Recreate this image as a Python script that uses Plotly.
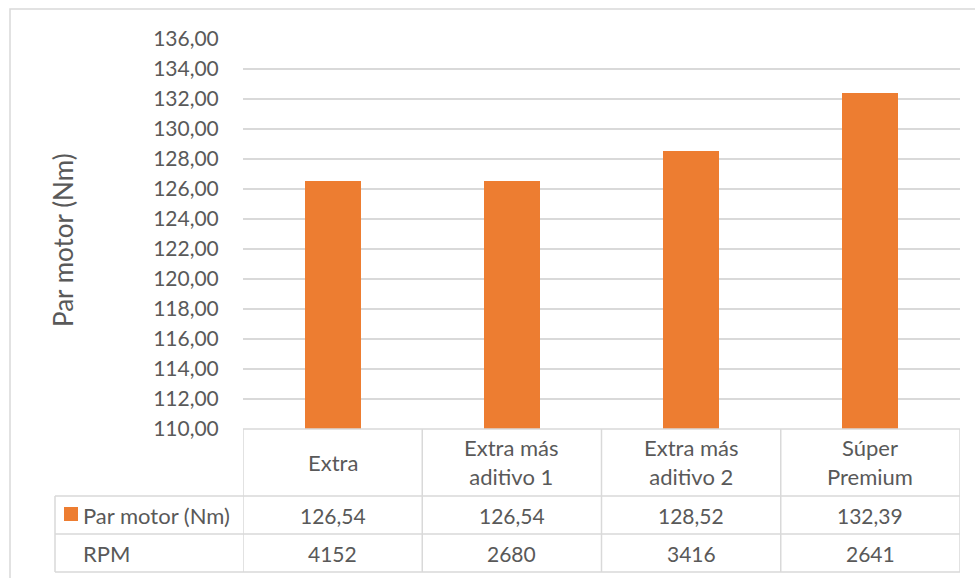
import plotly.graph_objects as go

# Data
categories = ["Extra", "Extra más<br>aditivo 1", "Extra más<br>aditivo 2", "Súper<br>Premium"]
par_motor = [126.54, 126.54, 128.52, 132.39]
rpm = [4152, 2680, 3416, 2641]
series_name = "Par motor (Nm)"
rpm_label = "RPM"
y_title = "Par motor (Nm)"

BAR_COLOR = "#ED7D31"
TEXT_COLOR = "#595959"
LINE_COLOR = "#D9D9D9"
FONT = "Lato, Open Sans, sans-serif"

W, H = 975, 578
L, R, T, B = 243, 15, 39, 149
PW = W - L - R
PH = H - T - B


def px_x(x):
    """pixel x -> paper x"""
    return (x - L) / PW


def px_y(y):
    """pixel y (from top) -> paper y"""
    return (H - B - y) / PH


fig = go.Figure()
xs = list(range(len(categories)))
fig.add_trace(go.Bar(
    x=xs, y=par_motor, width=0.313,
    marker=dict(color=BAR_COLOR, line=dict(width=0)),
    name=series_name, showlegend=False,
))

shapes = []
annotations = []
line = dict(color=LINE_COLOR, width=1.5)

# outer chart border
shapes.append(dict(type="rect", xref="paper", yref="paper",
                   x0=px_x(10), x1=px_x(990), y0=px_y(600), y1=px_y(9),
                   line=dict(color=LINE_COLOR, width=1.5), fillcolor="rgba(0,0,0,0)", layer="below"))

# data table rows (pixel positions of row boundaries)
row_header_top, row1_top, row2_top, row_bottom = 429, 496, 534, 572
left_col = 55

# horizontal lines
for yy, x0 in [(row_header_top, None), (row1_top, left_col), (row2_top, left_col), (row_bottom, left_col)]:
    shapes.append(dict(type="line", xref="paper", yref="paper",
                       x0=px_x(x0) if x0 is not None else 0, x1=1,
                       y0=px_y(yy), y1=px_y(yy), line=line))
# vertical lines at category boundaries
n = len(categories)
for i in range(n + 1):
    shapes.append(dict(type="line", xref="x", yref="paper",
                       x0=i - 0.5, x1=i - 0.5, y0=px_y(row_header_top), y1=px_y(row_bottom), line=line))
# left edge of row-label column
shapes.append(dict(type="line", xref="paper", yref="paper",
                   x0=px_x(left_col), x1=px_x(left_col), y0=px_y(row1_top), y1=px_y(row_bottom), line=line))

# legend key in the table
shapes.append(dict(type="rect", xref="paper", yref="paper",
                   x0=px_x(64), x1=px_x(78), y0=px_y(521), y1=px_y(507),
                   fillcolor=BAR_COLOR, line=dict(width=0)))

text_font = dict(family=FONT, size=22, color=TEXT_COLOR)
num_font = dict(family=FONT, size=21, color=TEXT_COLOR)
title_font = dict(family=FONT, size=26, color=TEXT_COLOR)

for i, cat in enumerate(categories):
    annotations.append(dict(x=i, xref="x", y=px_y((row_header_top + row1_top) / 2), yref="paper",
                            text=cat, showarrow=False, font=text_font, xanchor="center", yanchor="middle"))
    annotations.append(dict(x=i, xref="x", y=px_y((row1_top + row2_top) / 2), yref="paper",
                            text=f"{par_motor[i]:.2f}".replace(".", ","), showarrow=False, font=num_font,
                            xanchor="center", yanchor="middle"))
    annotations.append(dict(x=i, xref="x", y=px_y((row2_top + row_bottom) / 2), yref="paper",
                            text=str(rpm[i]), showarrow=False, font=num_font,
                            xanchor="center", yanchor="middle"))

annotations.append(dict(x=px_x(81), xref="paper", y=px_y((row1_top + row2_top) / 2), yref="paper",
                        text=series_name, showarrow=False, font=text_font, xanchor="left", yanchor="middle"))
annotations.append(dict(x=px_x(81), xref="paper", y=px_y((row2_top + row_bottom) / 2), yref="paper",
                        text=rpm_label, showarrow=False, font=text_font, xanchor="left", yanchor="middle"))

# axis title
annotations.append(dict(x=px_x(63), xref="paper", y=px_y(240), yref="paper",
                        text=y_title, textangle=-90, showarrow=False, font=title_font,
                        xanchor="center", yanchor="middle"))

fig.update_layout(
    width=W, height=H,
    margin=dict(l=L, r=R, t=T, b=B),
    paper_bgcolor="white", plot_bgcolor="white",
    separators=",.",
    shapes=shapes, annotations=annotations,
    font=text_font,
    xaxis=dict(range=[-0.5, n - 0.5], showticklabels=False, showgrid=False,
               zeroline=False, showline=False, ticks=""),
    yaxis=dict(range=[110, 136], dtick=2, tick0=110, tickformat=".2f",
               showgrid=True, gridcolor=LINE_COLOR, gridwidth=1.5,
               zeroline=False, showline=False,
               ticks="outside", ticklen=19, tickcolor="rgba(0,0,0,0)",
               tickfont=num_font),
    bargap=0,
)

fig.write_html("out.html")
